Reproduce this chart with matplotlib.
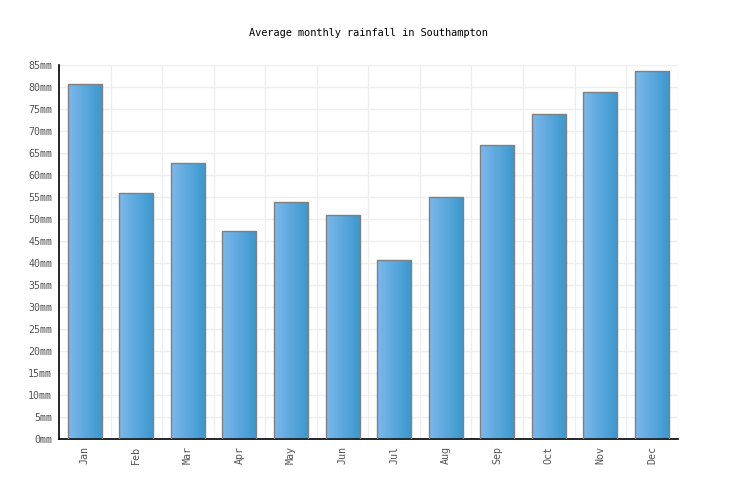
import numpy as np
import matplotlib
matplotlib.use("Agg")
import matplotlib.pyplot as plt
from matplotlib.colors import LinearSegmentedColormap

# datos
meses = ["Jan", "Feb", "Mar", "Apr", "May", "Jun",
         "Jul", "Aug", "Sep", "Oct", "Nov", "Dec"]
lluvia_mm = [80.8, 55.9, 62.7, 47.3, 53.9, 51.0,
             40.7, 55.0, 66.8, 74.0, 79.0, 83.6]
ticks_y = list(range(0, 90, 5))
etiquetas_y = [f"{v}mm" for v in ticks_y]
titulo = "Average monthly rainfall in Southampton"

plt.rcParams["font.family"] = ["DejaVu Sans Mono"]

fig = plt.figure(figsize=(7.36, 5.0), dpi=100)
ax = fig.add_axes([0.0802, 0.1214, 0.8406, 0.748])

x = np.arange(len(meses))
barras = ax.bar(x, lluvia_mm, width=0.66, facecolor="none",
                edgecolor="#808080", linewidth=1.0, zorder=3)

# degradado horizontal dentro de cada barra
cmap = LinearSegmentedColormap.from_list("azul", ["#7cb8ec", "#3a98cd"])
grad = np.linspace(0, 1, 64).reshape(1, -1)
for b in barras:
    x0, y0 = b.get_x(), b.get_y()
    w, h = b.get_width(), b.get_height()
    im = ax.imshow(grad, cmap=cmap, aspect="auto",
                   extent=(x0, x0 + w, y0, y0 + h), zorder=2,
                   interpolation="bilinear")
    im.set_clip_path(b)

ax.set_xlim(-0.5, len(meses) - 0.5)
ax.set_ylim(0, 85)

ax.set_yticks(ticks_y)
ax.set_yticklabels(etiquetas_y, fontsize=7.2, color="#555555")
ax.set_xticks(x)
ax.set_xticklabels(meses, rotation=90, fontsize=7.2, color="#555555")
ax.set_xticks(np.arange(len(meses)) + 0.5, minor=True)
ax.tick_params(axis="both", which="both", length=0, pad=5)

ax.grid(axis="y", which="major", color="#eeeeee", linewidth=1, zorder=0)
ax.grid(axis="x", which="minor", color="#eeeeee", linewidth=1, zorder=0)
ax.set_axisbelow(True)

for lado in ["top", "right"]:
    ax.spines[lado].set_visible(False)
ax.spines["left"].set_color("black")
ax.spines["bottom"].set_color("black")
ax.spines["left"].set_linewidth(1.2)
ax.spines["bottom"].set_linewidth(1.2)

fig.text(0.5, 0.934, titulo, ha="center", va="center", fontsize=7.4,
         color="black")

fig.savefig("out.png", dpi=100)
